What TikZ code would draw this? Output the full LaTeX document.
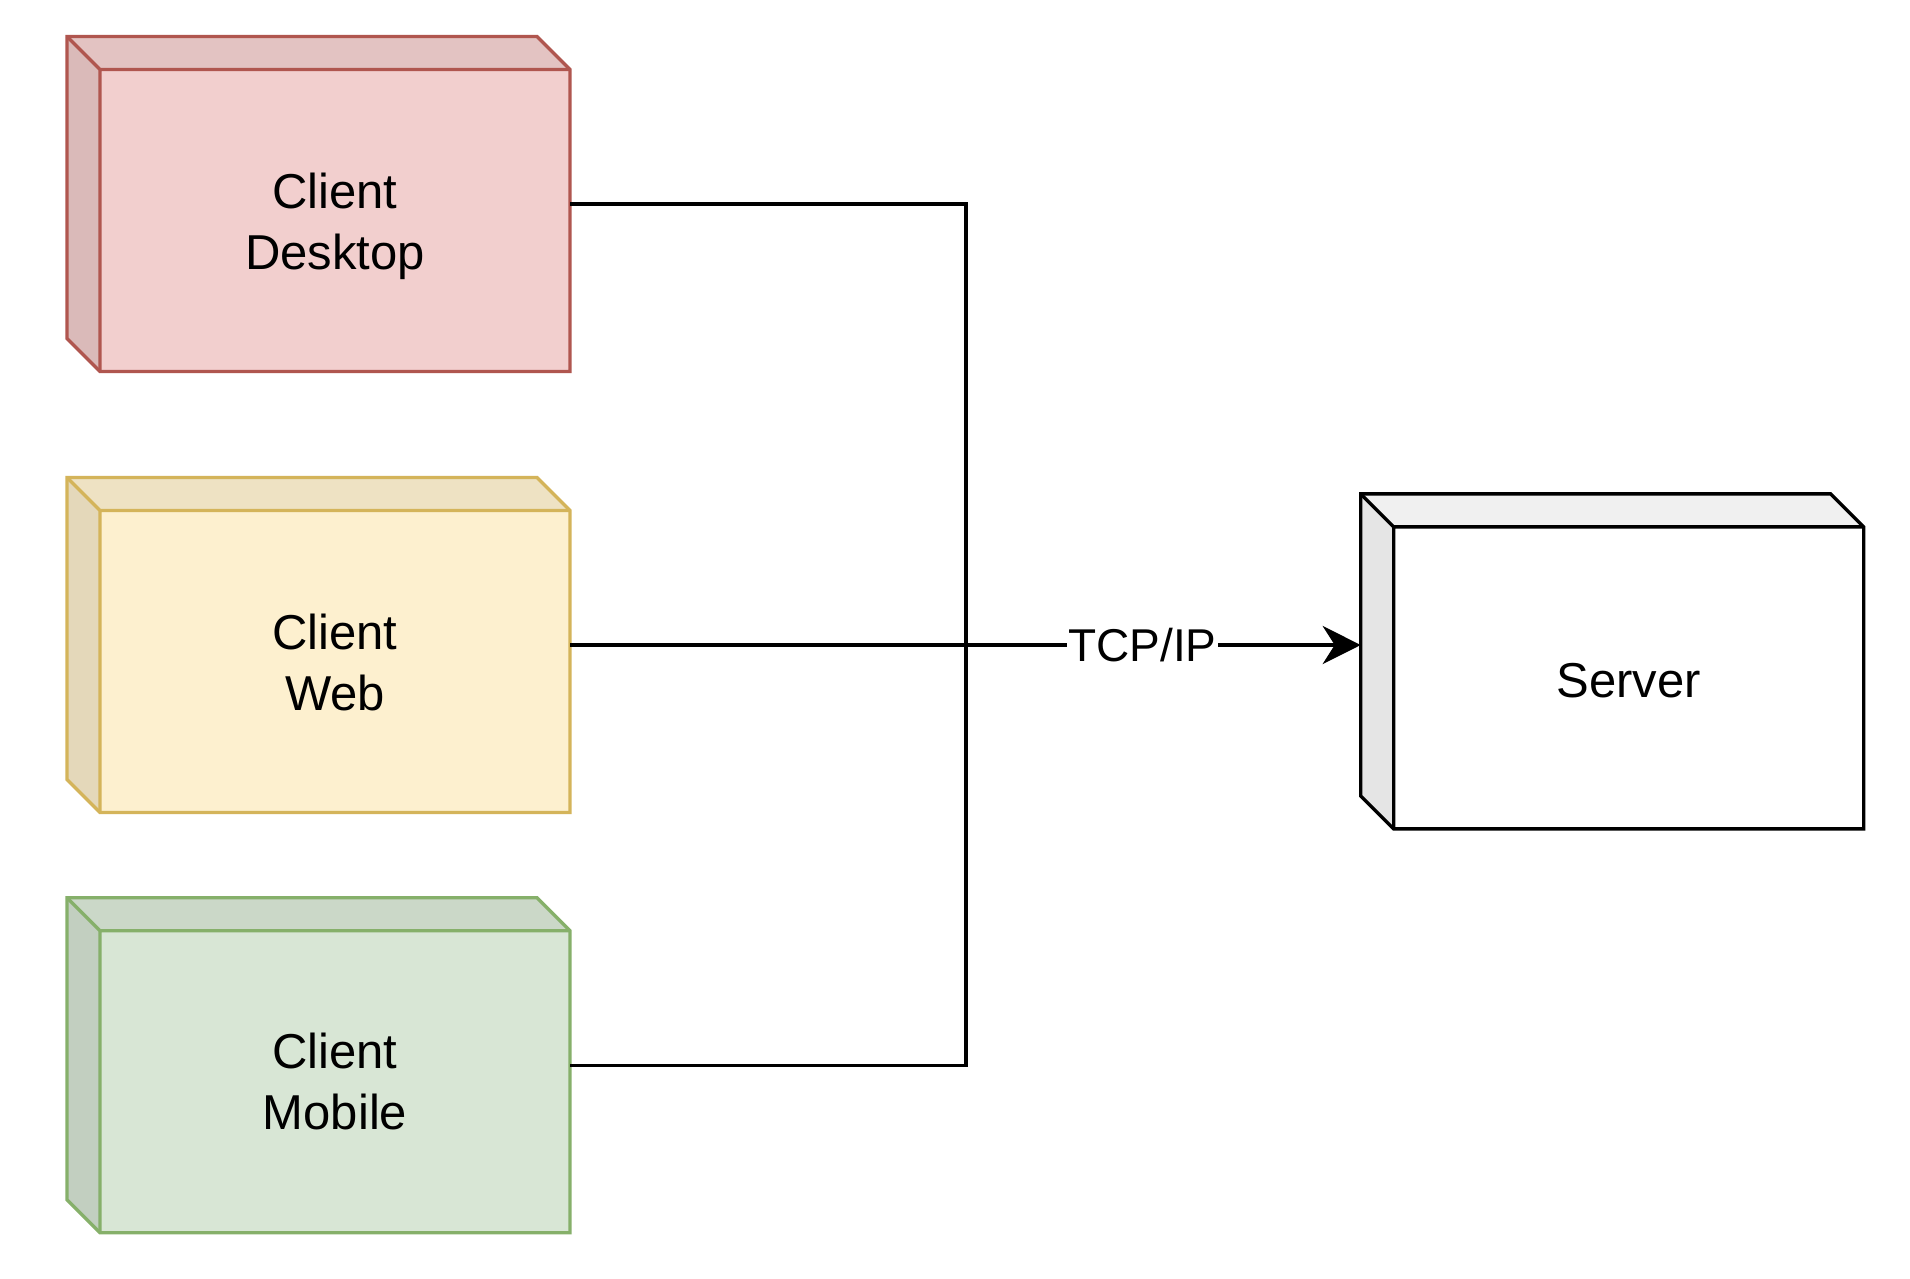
\documentclass[tikz,border=0pt]{standalone}
\usepackage{fontspec}
\setmainfont{Liberation Sans}
\usetikzlibrary{calc,arrows.meta}
\definecolor{deskF}{HTML}{F2CFCE}
\definecolor{deskS}{HTML}{B0564F}
\definecolor{webF}{HTML}{FDF0CF}
\definecolor{webS}{HTML}{D4B45A}
\definecolor{mobF}{HTML}{D8E6D5}
\definecolor{mobS}{HTML}{86B06A}
\definecolor{srvF}{HTML}{FFFFFF}
\newcommand\cubedepth{33pt}
\newcommand\cubedraw[3]{%
 \coordinate (#1-a) at (#1.north west);
 \coordinate (#1-b) at ($(#1.north east)+(-\cubedepth,0pt)$);
 \coordinate (#1-c) at ($(#1.north east)+(0pt,-\cubedepth)$);
 \coordinate (#1-e) at (#1.south east);
 \coordinate (#1-f) at ($(#1.south west)+(\cubedepth,0pt)$);
 \coordinate (#1-g) at ($(#1.south west)+(0pt,\cubedepth)$);
 \coordinate (#1-h) at ($(#1.north west)+(\cubedepth,-\cubedepth)$);
 \fill[#2] (#1-h) rectangle (#1-e);
 \fill[#2!94!black] (#1-a) -- (#1-b) -- (#1-c) -- (#1-h) -- cycle;
 \fill[#2!90!black] (#1-a) -- (#1-h) -- (#1-f) -- (#1-g) -- cycle;
 \draw[#3] (#1-a) -- (#1-b) -- (#1-c) -- (#1-e) -- (#1-f) -- (#1-g) -- cycle;
 \draw[#3] (#1-a) -- (#1-h) -- (#1-c) (#1-h) -- (#1-f);
}
\begin{document}
\begin{tikzpicture}[x=1pt,y=-1pt, line width=3.4pt, line join=miter,
  cube/.style={minimum width=503pt, minimum height=335pt, inner sep=0pt, outer sep=0pt},
  lbl/.style={font=\fontsize{49}{61}\selectfont, align=center, inner sep=0pt},
  wire/.style={line width=3.4pt, draw=black}]
\useasboundingbox[fill=white] (0,0) rectangle (1910,1278);
\node[cube] (desk) at (318.5,204) {};
\node[cube] (web) at (318.5,645) {};
\node[cube] (mob) at (318.5,1065.2) {};
\node[cube] (srv) at (1612.2,661.4) {};
\cubedraw{desk}{deskF}{deskS}
\cubedraw{web}{webF}{webS}
\cubedraw{mob}{mobF}{mobS}
\cubedraw{srv}{srvF}{black}
\node[lbl] (deskT) at ($(desk.center)+(16.5pt,-22.5pt)$) {Client\\Desktop};
\node[lbl] (webT) at ($(web.center)+(16.5pt,-17.5pt)$) {Client\\Web};
\node[lbl] (mobT) at ($(mob.center)+(16.5pt,-16.5pt)$) {Client\\Mobile};
\node[lbl] (srvT) at ($(srv.center)+(16.5pt,-19.5pt)$) {Server};
\coordinate (J) at (966,645);
\draw[wire] (desk.east) -| (J);
\draw[wire] (mob.east) -| (J);
\draw[wire,-{Stealth[length=38pt,width=38pt,inset=12pt]}] (web.east) -- node[pos=0.724, fill=white, inner sep=1pt, font=\fontsize{46}{55}\selectfont] (tcp) {TCP/IP} (web.east -| srv.west);
\end{tikzpicture}
\end{document}
